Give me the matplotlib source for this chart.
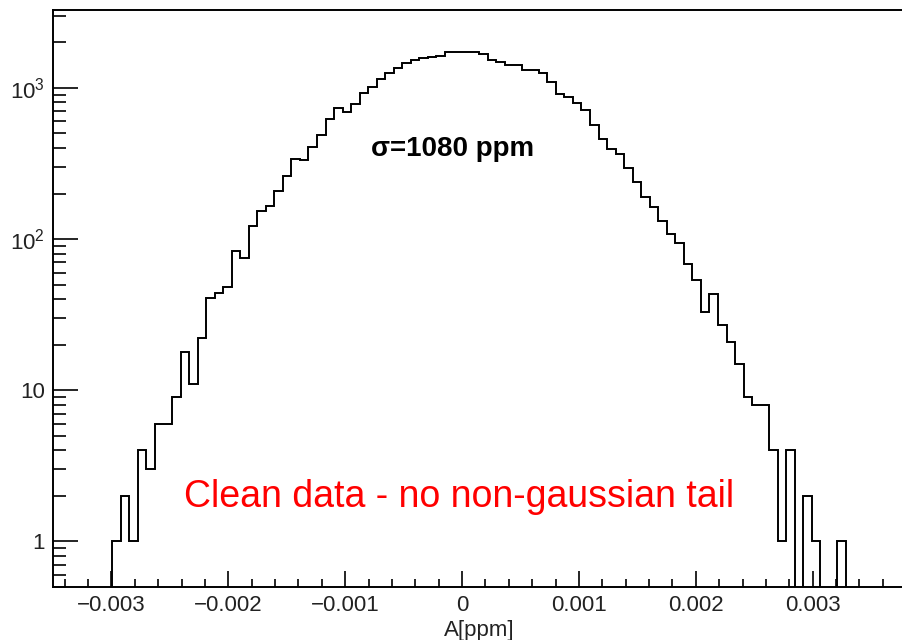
import matplotlib
matplotlib.use("Agg")
import matplotlib.pyplot as plt
import numpy as np
from matplotlib.ticker import MultipleLocator, LogLocator, FuncFormatter, NullFormatter

plt.rcParams['font.family'] = ['Liberation Sans', 'DejaVu Sans']
plt.rcParams['mathtext.fontset'] = 'custom'
plt.rcParams['mathtext.rm'] = 'Liberation Sans'

# histogram: 86 bins, first bin edge at -41 bin widths
bin_width = 7.3e-5
first_bin = -41
counts = [1, 2, 1, 4, 3, 6, 6, 9, 18, 11,
          22, 41, 44, 48, 83, 75, 122, 153, 166, 208,
          261, 338, 332, 408, 490, 622, 730, 695, 787, 922,
          1012, 1140, 1247, 1350, 1452, 1527, 1567, 1610, 1615, 1725,
          1725, 1725, 1725, 1670, 1535, 1487, 1405, 1405, 1320, 1320,
          1250, 1097, 905, 870, 790, 715, 570, 462, 395, 365,
          294, 240, 189, 164, 132, 108, 94, 68, 54, 33,
          43, 27, 21, 15, 9, 8, 8, 4, 1, 4,
          0, 2, 1, 0, 0, 1]
edges = (first_bin + np.arange(len(counts) + 1)) * bin_width

x_ticks = [-0.003, -0.002, -0.001, 0, 0.001, 0.002, 0.003]
sigma_text = '\u03c3=1080 ppm'
note_text = 'Clean data - no non-gaussian tail'

fig = plt.figure(figsize=(9.03, 6.40), dpi=100)
ax = fig.add_axes([53 / 903, 53 / 640, 876.5 / 903, 577 / 640])

vals = np.clip(np.array(counts, dtype=float), 0.1, None)
ax.stairs(vals, edges, baseline=0.1, color='black', lw=1.4)

ax.set_yscale('log')
ax.set_xlim(-0.0035, 0.004)
ax.set_ylim(0.5, 3270)

ax.set_xticks(x_ticks)
ax.xaxis.set_minor_locator(MultipleLocator(0.0002))
ax.xaxis.set_major_formatter(FuncFormatter(
    lambda v, p: '0' if abs(v) < 1e-9 else ('%.3f' % v).replace('-', '\u2212')))

ax.set_yticks([1, 10, 100, 1000])
ax.set_yticklabels(['1', '10', r'$\mathregular{10^{2}}$', r'$\mathregular{10^{3}}$'])
ax.yaxis.set_minor_locator(LogLocator(base=10, subs=np.arange(2, 10)))
ax.yaxis.set_minor_formatter(NullFormatter())

ax.tick_params(axis='x', which='major', direction='in', length=11.5, width=1.2,
               labelsize=16, pad=6, labelcolor='#222222')
ax.tick_params(axis='x', which='minor', direction='in', length=5.8, width=1.2)
ax.tick_params(axis='y', which='major', direction='in', length=18, width=1.2,
               labelsize=16, pad=6, labelcolor='#222222')
ax.tick_params(axis='y', which='minor', direction='in', length=9.4, width=1.2)

for s in ['left', 'bottom', 'top']:
    ax.spines[s].set_linewidth(1.4)
ax.spines['right'].set_visible(False)

ax.set_xlabel('A[ppm]', fontsize=16, color='#222222')
ax.xaxis.set_label_coords((479 - 53) / 876.5, -0.058)

fig.text(452.5 / 903, 1 - 156 / 640, sigma_text, fontsize=20, fontweight='bold',
         ha='center', va='baseline')
fig.text(459 / 903, 1 - 507 / 640, note_text, fontsize=27, color='red',
         ha='center', va='baseline')

plt.savefig('out.png', dpi=100)
plt.close()
